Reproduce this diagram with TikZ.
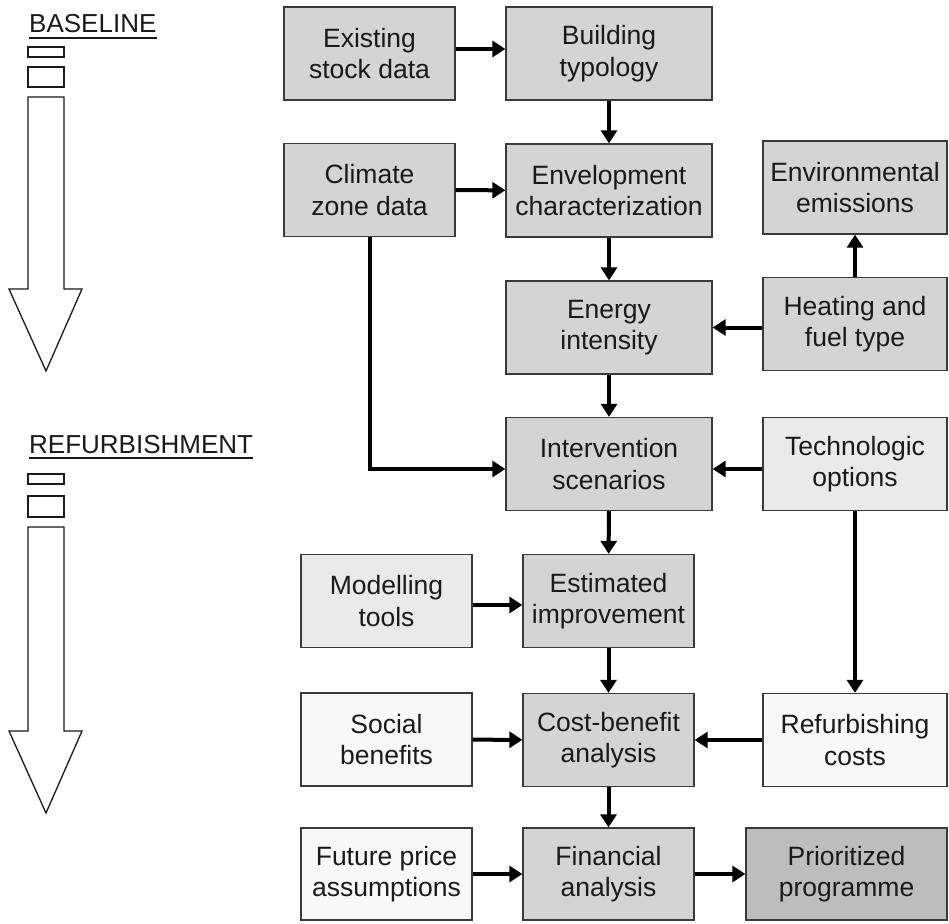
\documentclass[tikz,border=0pt]{standalone}
\usepackage{fontspec}
\setmainfont{Liberation Sans}
\usetikzlibrary{arrows.meta}
\definecolor{gmid}{HTML}{D4D4D4}
\definecolor{glight}{HTML}{EAEAEA}
\definecolor{gwhite}{HTML}{F8F8F8}
\definecolor{gdark}{HTML}{BDBDBD}
\definecolor{edge}{HTML}{3A3A3A}
\definecolor{ink}{HTML}{1A1A1A}
\tikzset{
  box/.style={draw=edge, line width=1.3pt, rectangle, inner sep=0pt, align=center,
    text=ink, font=\fontsize{26.5}{31.5}\selectfont, minimum height=93pt},
  narrow/.style={box, minimum width=171pt},
  wide/.style={box, minimum width=206pt},
  side/.style={box, minimum width=184pt},
  conn/.style={line width=4pt, -{Triangle[length=13pt,width=16pt]}},
  legend/.style={draw=ink, line width=1.3pt, fill=white},
  legtext/.style={inner sep=0pt, text=ink, font=\fontsize{26}{31.5}\selectfont, anchor=base west}
}
\begin{document}
\begin{tikzpicture}[x=1pt,y=-1pt]
\fill[white] (0,0) rectangle (949,923);
\useasboundingbox (0,0) rectangle (949,923);

% legend
\node[legtext] (bl) at (29,33) {BASELINE};
\draw[line width=1.2pt, ink] ([yshift=-5pt]bl.base west) -- ([yshift=-5pt]bl.base east);
\draw[legend] (28,47) rectangle (64,57);
\draw[legend] (28,67) rectangle (64,87);
\draw[legend] (28,97) -- (64,97) -- (64,289) -- (82,289) -- (46,371) -- (9,289) -- (28,289) -- cycle;

\node[legtext] (rf) at (29,453) {REFURBISHMENT};
\draw[line width=1.2pt, ink] ([yshift=-5pt]rf.base west) -- ([yshift=-5pt]rf.base east);
\draw[legend] (28,474) rectangle (64,484);
\draw[legend] (28,496) rectangle (64,517);
\draw[legend] (28,527) -- (64,527) -- (64,731) -- (82,731) -- (46,813) -- (9,731) -- (28,731) -- cycle;

% boxes
\node[narrow, fill=gmid] (exist) at (369.5,53.5) {Existing\\stock data};
\node[wide, fill=gmid] (build) at (609,53.5) {Building\\typology};
\node[narrow, fill=gmid] (climate) at (369.5,190) {Climate\\zone data};
\node[wide, fill=gmid] (envel) at (609,190.5) {Envelopment\\characterization};
\node[side, fill=gmid] (emis) at (855,187.5) {Environmental\\emissions};
\node[wide, fill=gmid] (energy) at (609,327.5) {Energy\\intensity};
\node[side, fill=gmid] (heat) at (855,324) {Heating and\\fuel type};
\node[wide, fill=gmid] (interv) at (609,464) {Intervention\\scenarios};
\node[side, fill=glight] (tech) at (855,464) {Technologic\\options};
\node[narrow, fill=glight] (model) at (386.5,601) {Modelling\\tools};
\node[narrow, fill=gmid] (estim) at (608.5,601) {Estimated\\improvement};
\node[narrow, fill=gwhite] (social) at (386.5,739.5) {Social\\benefits};
\node[narrow, fill=gmid] (cost) at (608.5,740) {Cost-benefit\\analysis};
\node[side, fill=gwhite] (refurb) at (855,740) {Refurbishing\\costs};
\node[narrow, fill=gwhite, minimum height=92pt] (future) at (386.5,874) {Future price\\assumptions};
\node[narrow, fill=gmid, minimum height=92pt] (fin) at (608.5,874) {Financial\\analysis};
\node[box, fill=gdark, minimum width=201pt, minimum height=92pt] (prior) at (846.5,874) {Prioritized\\programme};

% connectors
\draw[conn] ([yshift=4.5pt]exist.east) -- ([yshift=4.5pt]build.west);
\draw[conn] (build) -- (envel);
\draw[conn] (climate) -- (envel);
\draw[conn] (envel) -- (energy);
\draw[conn] (heat) -- (emis);
\draw[conn] (energy.east -| heat.west) -- (energy.east);
\draw[conn] (energy) -- (interv);
\draw[conn] (climate.south) |- ([yshift=-5pt]interv.west);
\draw[conn] ([yshift=-5pt]tech.west) -- ([yshift=-5pt]interv.east);
\draw[conn] (interv) -- (estim);
\draw[conn] (tech) -- (refurb);
\draw[conn] ([yshift=-4pt]model.east) -- ([yshift=-4pt]estim.west);
\draw[conn] (estim) -- (cost);
\draw[conn] (social) -- (cost);
\draw[conn] (refurb) -- (cost);
\draw[conn] (cost) -- (fin);
\draw[conn] (future) -- (fin);
\draw[conn] (fin) -- (prior);
\end{tikzpicture}
\end{document}
